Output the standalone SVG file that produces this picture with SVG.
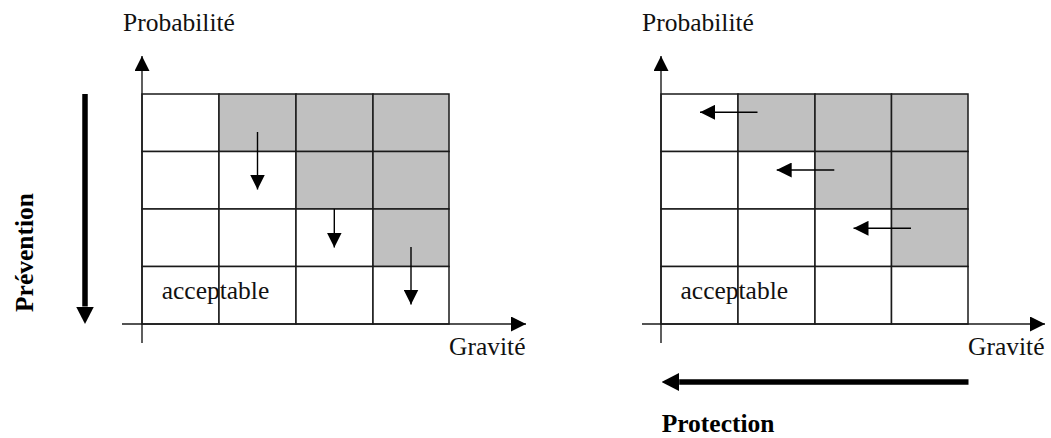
<svg xmlns="http://www.w3.org/2000/svg" width="1051" height="438" viewBox="0 0 1051 438">
<style>
  .bg{fill:#ffffff}
  .cell{fill:#ffffff;stroke:#1a1a1a;stroke-width:1.5}
  .gray{fill:#c0c0c0;stroke:#1a1a1a;stroke-width:1.5}
  .axis{stroke:#1a1a1a;stroke-width:1.4;fill:none}
  .small{stroke:#000;stroke-width:1.4;fill:none}
  .big{stroke:#000;stroke-width:5.5;fill:none}
  .lbl{font-family:"Liberation Serif","Times New Roman",serif;font-size:25.5px;fill:#111}
  .bold{font-family:"Liberation Serif","Times New Roman",serif;font-size:25.5px;font-weight:bold;fill:#000}
</style>
<defs>
  <marker id="ah" viewBox="0 0 15 15" markerWidth="15" markerHeight="15" refX="15" refY="7.5" orient="auto" markerUnits="userSpaceOnUse">
    <path d="M0,0 L15,7.5 L0,15 Z" fill="#000"/>
  </marker>
  <marker id="bh" viewBox="0 0 17.5 18" markerWidth="17.5" markerHeight="18" refX="0" refY="9" orient="auto" markerUnits="userSpaceOnUse">
    <path d="M0,0 L17.5,9 L0,18 Z" fill="#000"/>
  </marker>
</defs>
<rect class="bg" x="0" y="0" width="1051" height="438"/>

<g id="grid-left">
  <rect class="cell" x="142" y="94" width="77" height="57.5"/>
  <rect class="gray" x="219" y="94" width="77" height="57.5"/>
  <rect class="gray" x="296" y="94" width="77" height="57.5"/>
  <rect class="gray" x="373" y="94" width="76" height="57.5"/>
  <rect class="cell" x="142" y="151.5" width="77" height="57.5"/>
  <rect class="cell" x="219" y="151.5" width="77" height="57.5"/>
  <rect class="gray" x="296" y="151.5" width="77" height="57.5"/>
  <rect class="gray" x="373" y="151.5" width="76" height="57.5"/>
  <rect class="cell" x="142" y="209" width="77" height="57.5"/>
  <rect class="cell" x="219" y="209" width="77" height="57.5"/>
  <rect class="cell" x="296" y="209" width="77" height="57.5"/>
  <rect class="gray" x="373" y="209" width="76" height="57.5"/>
  <rect class="cell" x="142" y="266.5" width="77" height="57.5"/>
  <rect class="cell" x="219" y="266.5" width="77" height="57.5"/>
  <rect class="cell" x="296" y="266.5" width="77" height="57.5"/>
  <rect class="cell" x="373" y="266.5" width="76" height="57.5"/>
</g>

<g id="grid-right">
  <rect class="cell" x="661" y="94" width="77" height="57.5"/>
  <rect class="gray" x="738" y="94" width="77" height="57.5"/>
  <rect class="gray" x="815" y="94" width="76.5" height="57.5"/>
  <rect class="gray" x="891.5" y="94" width="76.5" height="57.5"/>
  <rect class="cell" x="661" y="151.5" width="77" height="57.5"/>
  <rect class="cell" x="738" y="151.5" width="77" height="57.5"/>
  <rect class="gray" x="815" y="151.5" width="76.5" height="57.5"/>
  <rect class="gray" x="891.5" y="151.5" width="76.5" height="57.5"/>
  <rect class="cell" x="661" y="209" width="77" height="57.5"/>
  <rect class="cell" x="738" y="209" width="77" height="57.5"/>
  <rect class="cell" x="815" y="209" width="76.5" height="57.5"/>
  <rect class="gray" x="891.5" y="209" width="76.5" height="57.5"/>
  <rect class="cell" x="661" y="266.5" width="77" height="57.5"/>
  <rect class="cell" x="738" y="266.5" width="77" height="57.5"/>
  <rect class="cell" x="815" y="266.5" width="76.5" height="57.5"/>
  <rect class="cell" x="891.5" y="266.5" width="76.5" height="57.5"/>
</g>

<g id="connectors">
  <!-- left axes -->
  <line class="axis" x1="142" y1="343" x2="142" y2="56" marker-end="url(#ah)"/>
  <line class="axis" x1="122" y1="324" x2="526" y2="324" marker-end="url(#ah)"/>
  <!-- right axes -->
  <line class="axis" x1="661" y1="343" x2="661" y2="56" marker-end="url(#ah)"/>
  <line class="axis" x1="642" y1="324" x2="1045" y2="324" marker-end="url(#ah)"/>
  <!-- left small arrows (down) -->
  <line class="small" x1="257.5" y1="132" x2="257.5" y2="189.5" marker-end="url(#ah)"/>
  <line class="small" x1="334.3" y1="209" x2="334.3" y2="247.5" marker-end="url(#ah)"/>
  <line class="small" x1="411" y1="247" x2="411" y2="304.5" marker-end="url(#ah)"/>
  <!-- right small arrows (left) -->
  <line class="small" x1="757.5" y1="112.3" x2="700" y2="112.3" marker-end="url(#ah)"/>
  <line class="small" x1="834.3" y1="170" x2="776.7" y2="170" marker-end="url(#ah)"/>
  <line class="small" x1="911" y1="228.3" x2="853.5" y2="228.3" marker-end="url(#ah)"/>
  <!-- big arrows -->
  <line class="big" x1="85" y1="94" x2="85" y2="306.5" marker-end="url(#bh)"/>
  <line class="big" x1="968.5" y1="382" x2="679.2" y2="382" marker-end="url(#bh)"/>
</g>

<g id="labels">
  <text class="lbl" x="123" y="31">Probabilité</text>
  <text class="lbl" x="642" y="31">Probabilité</text>
  <text class="lbl" x="449" y="355">Gravité</text>
  <text class="lbl" x="968" y="355">Gravité</text>
  <text class="lbl" x="161.7" y="299">acceptable</text>
  <text class="lbl" x="680.5" y="298.5">acceptable</text>
  <text class="bold" transform="translate(32.5,312) rotate(-90)">Prévention</text>
  <text class="bold" x="661.7" y="432">Protection</text>
</g>
</svg>
